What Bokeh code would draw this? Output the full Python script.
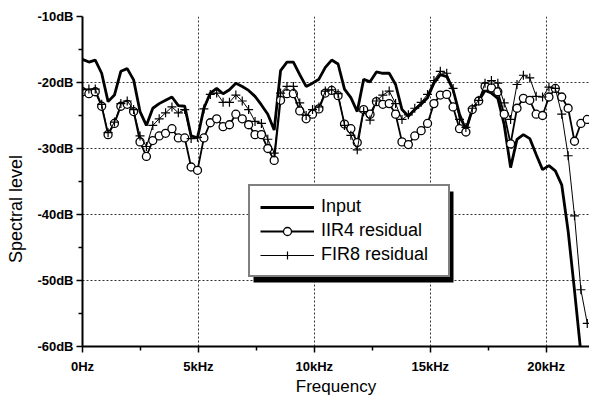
from bokeh.plotting import figure
from bokeh.models import FixedTicker, Legend, LegendItem, BoxAnnotation, Range1d
from bokeh.embed import file_html
from bokeh.resources import INLINE

FONT = "Liberation Sans"

freq_hz = [0, 276, 551, 827, 1103, 1378, 1654, 1929, 2205, 2481,
           2756, 3032, 3308, 3583, 3859, 4134, 4410, 4686, 4961, 5237,
           5513, 5788, 6064, 6339, 6615, 6891, 7166, 7442, 7718, 7993,
           8269, 8544, 8820, 9096, 9371, 9647, 9923, 10198, 10474, 10749,
           11025, 11301, 11576, 11852, 12128, 12403, 12679, 12954, 13230, 13506,
           13781, 14057, 14333, 14608, 14884, 15159, 15435, 15711, 15986, 16262,
           16538, 16813, 17089, 17364, 17640, 17916, 18191, 18467, 18743, 19018,
           19294, 19569, 19845, 20121, 20396, 20672, 20948, 21223, 21499, 21774]

input_db = [-16.5, -16.9, -16.6, -18.6, -22.9, -21.9, -18.3, -17.9, -19.6, -24.4,
            -26.5, -23.9, -23.2, -22.7, -22.2, -23.5, -23.6, -28.1, -28.4, -23.9,
            -21.6, -20.9, -21.7, -21.1, -20.1, -20.6, -21.2, -22.1, -23.4, -24.8,
            -27.2, -18.2, -16.9, -16.9, -18.8, -20.6, -20.1, -19.5, -17.7, -16.6,
            -17.2, -21.0, -22.3, -24.4, -19.5, -19.9, -18.4, -18.6, -18.6, -20.3,
            -24.1, -25.1, -24.1, -23.3, -22.3, -20.1, -18.8, -19.1, -21.1, -24.8,
            -27.2, -24.1, -22.8, -21.2, -21.6, -22.4, -26.4, -32.9, -28.6, -27.9,
            -28.5, -30.9, -33.2, -32.6, -33.4, -35.5, -42.5, -51.5, -61.0, float("nan")]

iir4_db = [-21.4, -21.7, -21.4, -23.6, -27.9, -26.2, -23.6, -23.3, -24.4, -29.0,
           -31.2, -28.8, -28.1, -27.7, -27.0, -28.4, -28.4, -32.8, -33.3, -28.4,
           -26.1, -25.5, -26.7, -26.4, -24.8, -25.5, -26.4, -27.9, -27.9, -30.0,
           -31.8, -22.7, -21.7, -21.7, -24.3, -25.5, -24.8, -24.0, -21.6, -21.2,
           -22.0, -26.3, -27.0, -29.1, -24.1, -24.8, -22.9, -23.3, -23.2, -24.8,
           -29.0, -29.4, -28.1, -27.3, -26.2, -23.2, -21.9, -21.8, -23.7, -27.0,
           -27.5, -24.1, -22.8, -20.6, -20.8, -21.4, -24.8, -29.3, -23.9, -22.4,
           -22.7, -24.8, -25.0, -22.2, -20.9, -22.2, -23.9, -28.9, -26.2, -25.6]

fir8_db = [-21.1, -21.0, -21.0, -23.3, -27.6, -26.0, -23.2, -22.8, -24.1, -28.1,
           -29.7, -26.5, -25.5, -24.6, -23.7, -24.6, -24.1, -28.5, -28.3, -24.0,
           -21.8, -21.6, -23.0, -23.0, -21.9, -22.8, -24.1, -25.9, -26.2, -28.6,
           -30.7, -21.6, -20.6, -20.6, -23.1, -25.0, -24.1, -23.7, -21.3, -21.1,
           -21.7, -26.5, -28.0, -30.2, -24.4, -25.7, -22.8, -21.9, -21.3, -23.2,
           -25.6, -24.9, -23.9, -23.0, -21.8, -19.7, -18.3, -18.6, -20.9, -25.6,
           -26.8, -23.9, -22.7, -20.1, -19.7, -20.1, -23.1, -25.6, -20.3, -18.9,
           -19.3, -22.1, -22.2, -20.7, -20.9, -24.8, -31.1, -40.2, -51.4, -56.5]

x_ticks = [0, 5000, 10000, 15000, 20000]
x_minor = [2500, 7500, 12500, 17500]
x_labels = ["0Hz", "5kHz", "10kHz", "15kHz", "20kHz"]
y_ticks = [-60, -50, -40, -30, -20, -10]
y_minor = [-55, -45, -35, -25, -15]
y_labels = ["-60dB", "-50dB", "-40dB", "-30dB", "-20dB", "-10dB"]

p = figure(width=589, height=400, output_backend="svg", toolbar_location=None,
           x_range=Range1d(0, 21870), y_range=Range1d(-60, -10),
           min_border_left=82, min_border_right=0, min_border_top=16,
           min_border_bottom=54)
p.outline_line_color = None
p.background_fill_color = "white"
p.border_fill_color = "white"

for ax in (p.xaxis[0], p.yaxis[0]):
    ax.axis_line_width = 2
    ax.axis_line_color = "black"
    ax.major_tick_line_width = 1.5
    ax.major_tick_line_color = "black"
    ax.minor_tick_line_width = 1.5
    ax.minor_tick_line_color = "black"
    ax.major_tick_out = 6
    ax.major_tick_in = 0
    ax.minor_tick_out = 4
    ax.minor_tick_in = 0
    ax.major_label_text_font = FONT
    ax.major_label_text_font_size = "13px"
    ax.major_label_text_font_style = "bold"
    ax.major_label_text_color = "black"
    ax.axis_label_text_font = FONT
    ax.axis_label_text_font_style = "normal"
    ax.axis_label_text_color = "black"

p.xaxis.ticker = FixedTicker(ticks=x_ticks, minor_ticks=x_minor)
p.xaxis.major_label_overrides = dict(zip(x_ticks, x_labels))
p.xaxis.axis_label = "Frequency"
p.xaxis.axis_label_text_font_size = "17px"
p.xaxis.major_label_standoff = 6
p.xaxis.axis_label_standoff = 0

p.yaxis.ticker = FixedTicker(ticks=y_ticks, minor_ticks=y_minor)
p.yaxis.major_label_overrides = dict(zip(y_ticks, y_labels))
p.yaxis.major_label_standoff = 3
p.yaxis.axis_label = "Spectral level" + "\u00a0" * 11
p.yaxis.axis_label_text_font_size = "18px"
p.yaxis.axis_label_standoff = 8

for g in (p.xgrid[0], p.ygrid[0]):
    g.grid_line_color = "#333333"
    g.grid_line_dash = "2 2"
    g.grid_line_width = 1

r_in = p.line(freq_hz, input_db, line_color="black", line_width=2.8)
r_iir_l = p.line(freq_hz, iir4_db, line_color="black", line_width=1.8)
r_iir_m = p.scatter(freq_hz, iir4_db, marker="circle", size=8,
                    fill_color="white", line_color="black", line_width=1.3)
r_fir_l = p.line(freq_hz, fir8_db, line_color="black", line_width=1)
r_fir_m = p.scatter(freq_hz, fir8_db, marker="cross", size=9,
                    line_color="black", line_width=1.2)

shadow = BoxAnnotation(left=171, right=371, top=155, bottom=64,
                       left_units="screen", right_units="screen",
                       top_units="screen", bottom_units="screen",
                       fill_color="black", fill_alpha=1, line_color=None)
p.add_layout(shadow)

legend = Legend(items=[LegendItem(label="Input", renderers=[r_in]),
                       LegendItem(label="IIR4 residual", renderers=[r_iir_l, r_iir_m]),
                       LegendItem(label="FIR8 residual", renderers=[r_fir_l, r_fir_m])],
                location=(166, 69), border_line_color="black", border_line_width=2,
                background_fill_color="white", background_fill_alpha=1,
                padding=10, spacing=3, margin=0, glyph_width=54, glyph_height=20,
                label_height=20, label_width=117, label_standoff=7,
                label_text_font=FONT, label_text_font_size="18px",
                label_text_color="black")
p.add_layout(legend)

open("out.html", "w").write(file_html(p, INLINE))
